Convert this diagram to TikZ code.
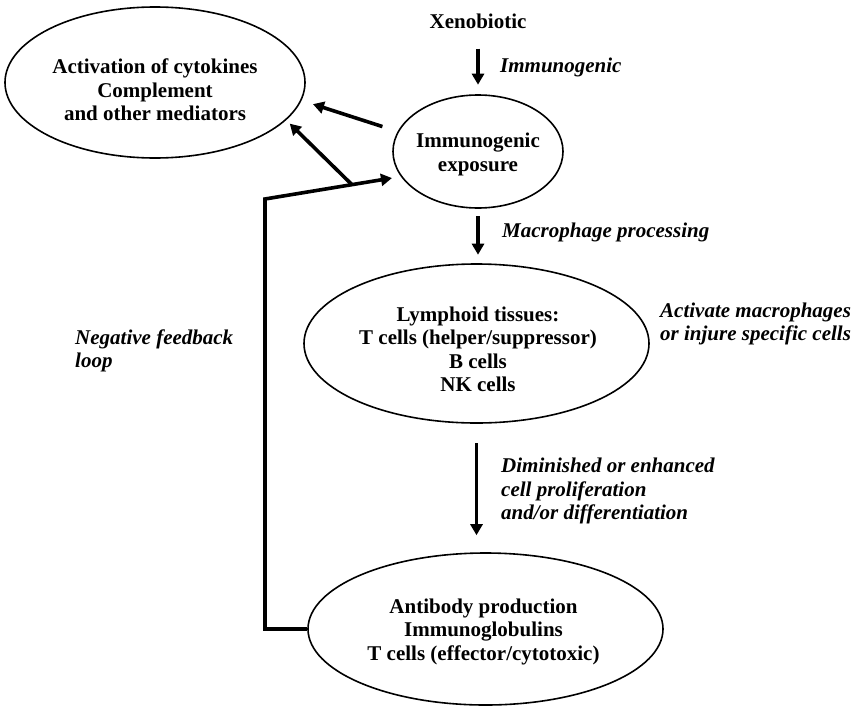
\documentclass[tikz,border=0pt]{standalone}
\usepackage{fontspec}
\setmainfont{Liberation Serif}
\usetikzlibrary{shapes.geometric,arrows.meta}
\begin{document}
\begin{tikzpicture}[x=1pt,y=-1pt,
    oval/.style={draw, ellipse, line width=1.6pt, inner sep=0pt},
    txt/.style={inner sep=0pt, align=center, font=\fontsize{21}{23.5}\selectfont\bfseries},
    lbl/.style={inner sep=0pt, anchor=west, align=left, font=\fontsize{21}{23.5}\selectfont\bfseries\itshape},
    arr/.style={-{Triangle[length=11pt,width=12pt]}, line width=3.6pt}]
  \useasboundingbox (0,0) rectangle (861,707);
  % the four ovals, text sits a little below centre
  \node[oval, minimum width=300pt, minimum height=151pt,
    label={[txt, yshift=-7.6pt]center:{Activation of cytokines\\Complement\\and other mediators}}] (act) at (155,82.5) {};
  \node[oval, minimum width=170pt, minimum height=113pt,
    label={[txt, yshift=-3pt]center:{Immunogenic\\exposure}}] (imm) at (478,151.5) {};
  \node[oval, minimum width=345pt, minimum height=159pt,
    label={[txt, xshift=1.5pt, yshift=-6pt]center:{Lymphoid tissues:\\T cells (helper/suppressor)\\B cells\\NK cells}}] (lym) at (476.5,343.5) {};
  \node[oval, minimum width=355pt, minimum height=152pt,
    label={[txt, xshift=-2pt, yshift=-2.5pt]center:{Antibody production\\Immunoglobulins\\T cells (effector/cytotoxic)}}] (ab) at (485.5,629) {};
  \node[txt] (xeno) at (478,21) {Xenobiotic};
  % labels
  \node[lbl] (limm) at (500,67) {Immunogenic};
  \node[lbl] (lmac) at (502,232) {Macrophage processing};
  \node[lbl] (linj) at (660,324) {Activate macrophages\\or injure specific cells};
  \node[lbl] (ldim) at (501,491) {Diminished or enhanced\\cell proliferation\\and/or differentiation};
  \node[lbl] (lneg) at (75,351) {Negative feedback\\loop};
  % main chain
  \draw[arr, shorten <=20pt, shorten >=9.5pt] (xeno.south) -- (xeno.south |- imm.north);
  \draw[arr, shorten <=7.5pt, shorten >=8.5pt] (imm.south) -- (imm.south |- lym.north);
  \draw[arr, shorten <=19.5pt, shorten >=17pt] (lym.south) -- (lym.south |- ab.north);
  \draw[arr, shorten <=16pt, shorten >=12pt] (imm.166) -- (act.-7);
  % feedback loop
  \coordinate (fbturn) at (265,199);
  \draw[arr, shorten >=9pt] (ab.west) -| (fbturn) -- coordinate[pos=0.64] (fbsplit) (imm.198);
  \draw[arr, shorten >=5pt] (fbsplit) -- (act.-16);
\end{tikzpicture}
\end{document}
